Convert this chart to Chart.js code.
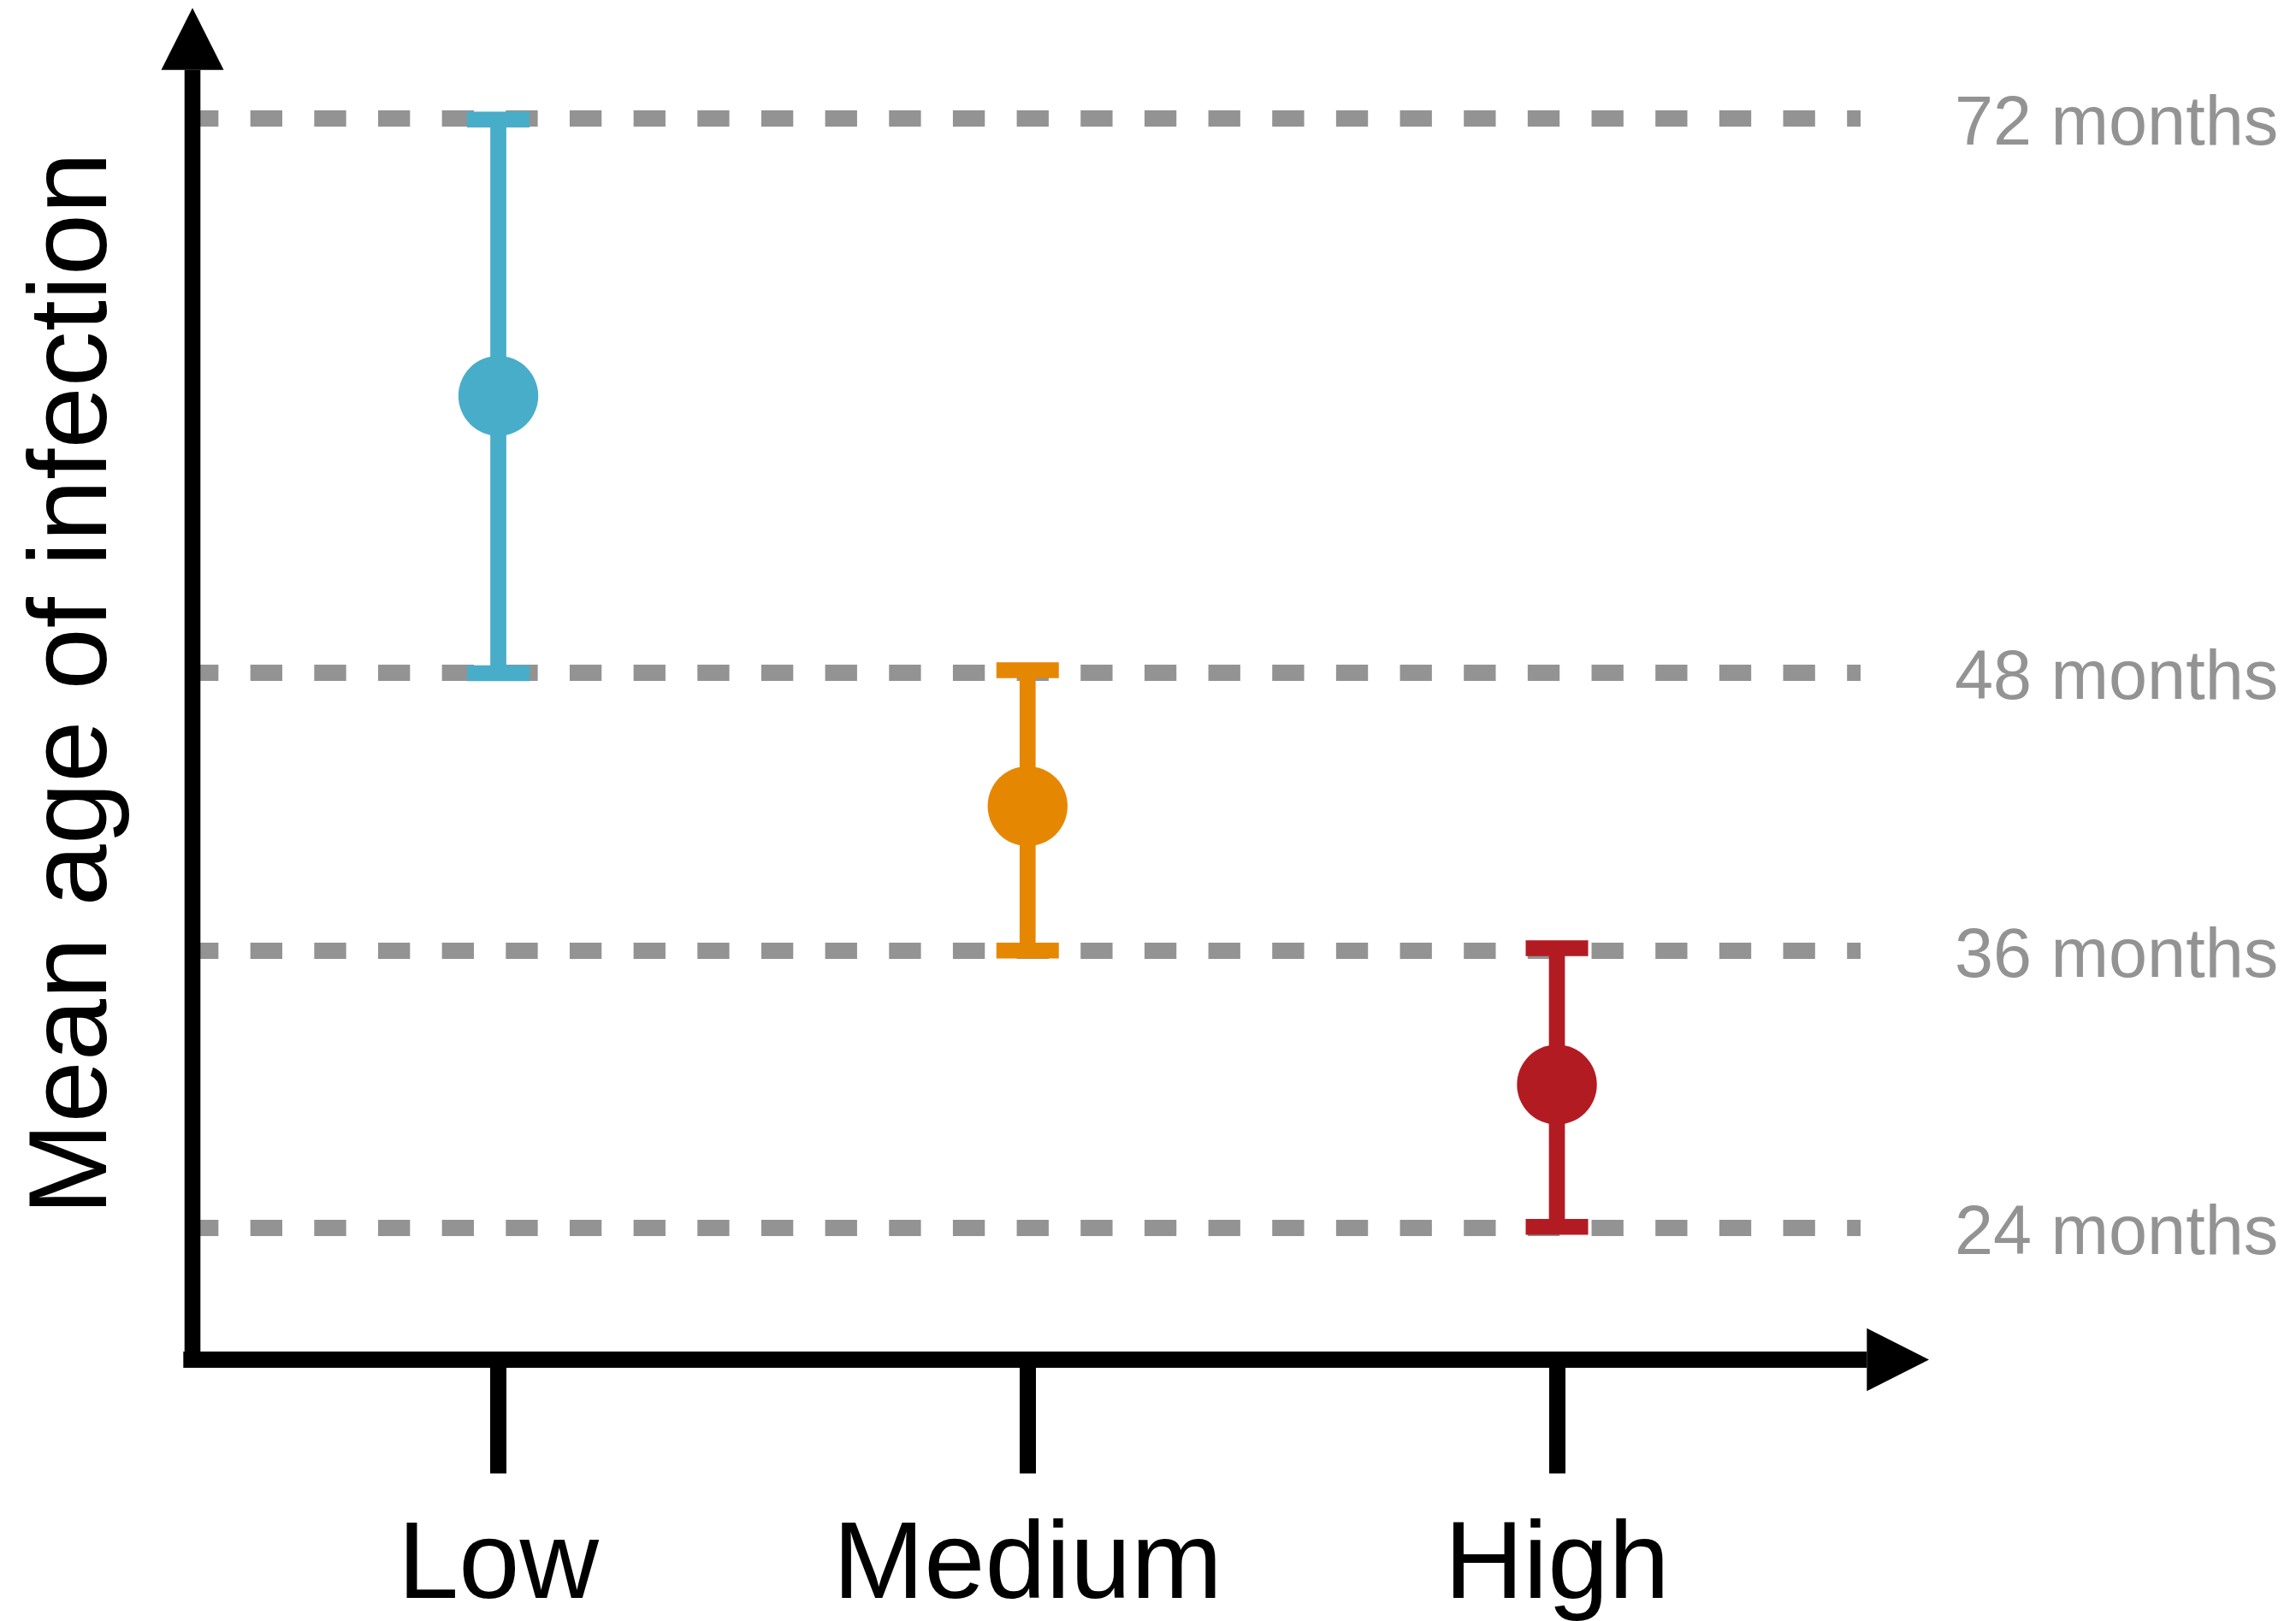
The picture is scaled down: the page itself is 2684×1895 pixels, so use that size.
<!DOCTYPE html>
<html>
<head>
<meta charset="utf-8">
<script src="https://cdn.jsdelivr.net/npm/chart.js@4/dist/chart.umd.min.js"></script>
<style>
html, body { margin: 0; padding: 0; background: #ffffff; }
canvas { display: block; }
</style>
</head>
<body>
<canvas id="c" width="2684" height="1895"></canvas>
<script>
// ---- data ----
const categories = ['Low', 'Medium', 'High'];
const meanAge = [60, 42.25, 30.2];
const lowerBound = [48, 36, 24.05];
const upperBound = [71.95, 48.13, 36.1];
const gridTicks = [24, 36, 48, 72];
const tickSuffix = ' months';
const yTitle = 'Mean age of infection';
const pointColors = ['#48ADC9', '#E68702', '#B31B22'];

Chart.defaults.font.family = "'Liberation Sans', Arial, Helvetica, sans-serif";

const axesPlugin = {
  id: 'axesArrows',
  beforeDatasetsDraw(chart) {
    const { ctx, chartArea } = chart;
    const yx = chartArea.left + 7;       // y axis line centre
    const xy = chartArea.bottom;         // x axis line centre
    ctx.save();
    ctx.fillStyle = '#000';
    // y axis line
    ctx.fillRect(yx - 9.3, chartArea.top + 72.7, 18.6, xy + 9.5 - (chartArea.top + 72.7));
    // y arrow head
    ctx.beginPath();
    ctx.moveTo(yx, chartArea.top + 0.3);
    ctx.lineTo(yx - 36.5, chartArea.top + 72.7);
    ctx.lineTo(yx + 36.5, chartArea.top + 72.7);
    ctx.closePath();
    ctx.fill();
    // x axis line
    const xEnd = chartArea.right + 7.3;
    ctx.fillRect(yx - 10.7, xy - 9.5, xEnd - (yx - 10.7), 19);
    // x arrow head
    ctx.beginPath();
    ctx.moveTo(xEnd, xy - 36.7);
    ctx.lineTo(xEnd + 72.7, xy);
    ctx.lineTo(xEnd, xy + 36.7);
    ctx.closePath();
    ctx.fill();
    ctx.restore();
  }
};

const errorBarPlugin = {
  id: 'errorBars',
  beforeDatasetsDraw(chart) {
    const { ctx, scales } = chart;
    const x = scales.x, y = scales.y;
    ctx.save();
    ctx.lineCap = 'butt';
    categories.forEach((c, i) => {
      const px = x.getPixelForValue(i);
      const yl = y.getPixelForValue(lowerBound[i]);
      const yu = y.getPixelForValue(upperBound[i]);
      ctx.strokeStyle = pointColors[i];
      ctx.lineWidth = 18.7;
      ctx.beginPath();
      ctx.moveTo(px, yl);
      ctx.lineTo(px, yu);
      ctx.stroke();
      ctx.lineWidth = 18.5;
      ctx.beginPath();
      ctx.moveTo(px - 36.5, yl); ctx.lineTo(px + 36.5, yl);
      ctx.moveTo(px - 36.5, yu); ctx.lineTo(px + 36.5, yu);
      ctx.stroke();
    });
    ctx.restore();
  }
};

new Chart(document.getElementById('c'), {
  type: 'scatter',
  data: {
    datasets: [{
      data: categories.map((c, i) => ({ x: i, y: meanAge[i] })),
      pointRadius: 46.7,
      pointHoverRadius: 46.7,
      pointBackgroundColor: pointColors,
      pointBorderWidth: 0,
      showLine: false,
      clip: false,
      xAxisID: 'x',
      yAxisID: 'y'
    }]
  },
  options: {
    responsive: false,
    animation: false,
    events: [],
    layout: { autoPadding: false, padding: { top: 9, left: 0, right: 0, bottom: 0 } },
    plugins: { legend: { display: false }, tooltip: { enabled: false } },
    scales: {
      x: {
        type: 'linear',
        position: 'bottom',
        min: -0.5891,
        max: 2.5737,
        afterBuildTicks: s => { s.ticks = categories.map((c, i) => ({ value: i })); },
        afterFit: s => { s.height = 305.5; s.paddingLeft = 0; s.paddingRight = 0; },
        ticks: {
          callback: v => categories[v],
          color: '#000000',
          font: { size: 128 },
          padding: 33,
          autoSkip: false,
          maxRotation: 0,
          minRotation: 0
        },
        grid: {
          display: true,
          drawOnChartArea: false,
          drawTicks: true,
          tickLength: 133,
          tickWidth: 19,
          tickColor: '#000000'
        },
        border: { display: false }
      },
      y: {
        type: 'linear',
        position: 'right',
        min: 18.30,
        max: 76.793,
        afterBuildTicks: s => { s.ticks = gridTicks.map(v => ({ value: v })); },
        afterFit: s => { s.width = 509; s.paddingTop = 0; s.paddingBottom = 0; },
        ticks: {
          callback: v => v + tickSuffix,
          color: '#939393',
          font: { size: 81 },
          padding: 110,
          labelOffset: 8
        },
        grid: {
          display: true,
          drawOnChartArea: true,
          drawTicks: false,
          color: '#939393',
          lineWidth: 19
        },
        border: { display: false, dash: [37.33, 37.33], dashOffset: 0 }
      },
      yTitle: {
        type: 'linear',
        position: 'left',
        min: 0,
        max: 1,
        afterFit: s => { s.width = 218; s.paddingTop = 0; s.paddingBottom = 0; },
        ticks: { display: false },
        grid: { display: false },
        border: { display: false },
        title: {
          display: true,
          text: yTitle,
          color: '#000000',
          font: { size: 130 },
          padding: { top: 10, bottom: 0 }
        }
      }
    }
  },
  plugins: [axesPlugin, errorBarPlugin]
});
</script>
</body>
</html>
